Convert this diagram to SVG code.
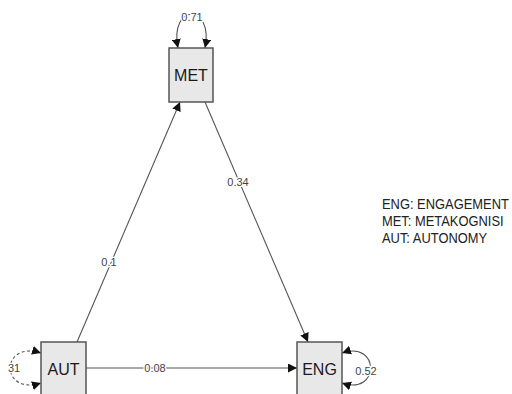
<svg xmlns="http://www.w3.org/2000/svg" width="512" height="394" viewBox="0 0 512 394">
<style>
.box{fill:#e8e8e8;stroke:#555;stroke-width:1.5}
.nt{font-family:"Liberation Sans",Arial,sans-serif;font-size:16px;fill:#1a1a1a;text-anchor:middle}
.e{fill:none;stroke:#555;stroke-width:1.1}
.d{stroke-dasharray:3,2.5}
.lb{font-family:"Liberation Sans",Arial,sans-serif;font-size:11px;fill:#444;text-anchor:middle;stroke:#fff;stroke-width:2.5;paint-order:stroke;stroke-linejoin:round}
.lg{font-family:"Liberation Sans",Arial,sans-serif;font-size:14.5px;fill:#222}
</style>
<defs>
<marker id="ah" viewBox="0 0 10 10" refX="10" refY="5" markerWidth="9" markerHeight="9" markerUnits="userSpaceOnUse" orient="auto-start-reverse">
<path d="M0,0 L10,5 L0,10 z" fill="#111"/>
</marker>
</defs>
<rect width="512" height="394" fill="#fff"/>
<g id="connectors">
<path class="e" d="M77,342 L180,102" marker-end="url(#ah)"/>
<path class="e" d="M205,102 L308,342" marker-end="url(#ah)"/>
<path class="e" d="M86,368 L297,368" marker-end="url(#ah)"/>
<path class="e" d="M178,48 C169,3 214,3 205,48" marker-start="url(#ah)" marker-end="url(#ah)"/>
<path class="e d" d="M41,353 C0,340 0,396 41,383" marker-start="url(#ah)" marker-end="url(#ah)"/>
<path class="e" d="M342,353 C380,340 380,396 342,383" marker-start="url(#ah)" marker-end="url(#ah)"/>
<text class="lb" x="109" y="266">0.1</text>
<text class="lb" x="238" y="186">0.34</text>
<text class="lb" x="155" y="372">0.08</text>
<text class="lb" x="192" y="21">0.71</text>
<text class="lb" x="14" y="372">31</text>
<text class="lb" x="366" y="375">0.52</text>
</g>
<g id="MET">
<rect class="box" x="169" y="48" width="44" height="54"/>
<text class="nt" x="191" y="81">MET</text>
</g>
<g id="AUT">
<rect class="box" x="41" y="342" width="45" height="56"/>
<text class="nt" x="63.5" y="375">AUT</text>
</g>
<g id="ENG">
<rect class="box" x="297" y="342" width="45" height="56"/>
<text class="nt" x="319.5" y="375">ENG</text>
</g>
<g id="legend" transform="translate(382,0) scale(0.89,1)">
<text class="lg" x="0" y="209">ENG: ENGAGEMENT</text>
<text class="lg" x="0" y="226">MET: METAKOGNISI</text>
<text class="lg" x="0" y="243">AUT: AUTONOMY</text>
</g>
</svg>
